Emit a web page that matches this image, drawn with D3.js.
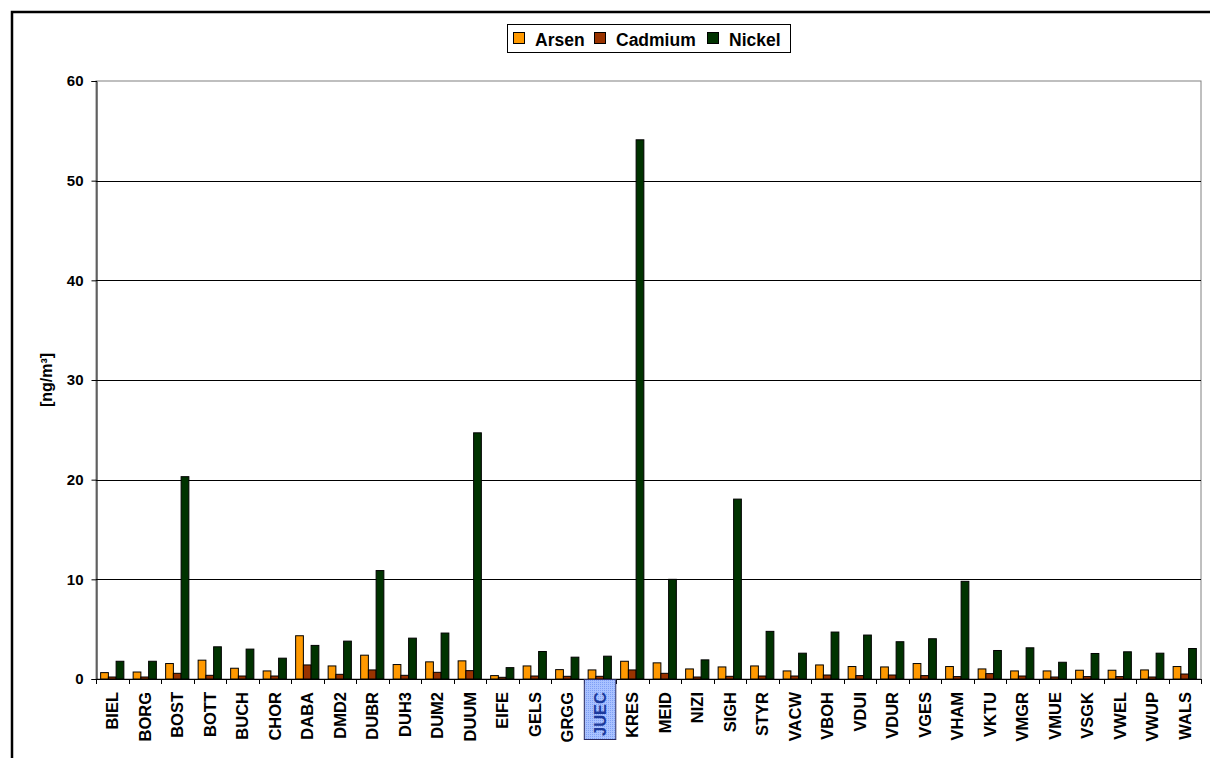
<!DOCTYPE html>
<html>
<head>
<meta charset="utf-8">
<script src="https://cdn.jsdelivr.net/npm/d3@7"></script>
<style>
  html, body { margin: 0; padding: 0; background: #fff; }
  svg { display: block; font-family: "Liberation Sans", Arial, sans-serif; }
</style>
</head>
<body>
<svg id="chart" width="1210" height="758"></svg>
<script>
// Monitoring stations
const stations = ["BIEL","BORG","BOST","BOTT","BUCH","CHOR","DABA","DMD2","DUBR","DUH3",
  "DUM2","DUUM","EIFE","GELS","GRGG","JUEC","KRES","MEID","NIZI","SIGH","STYR","VACW",
  "VBOH","VDUI","VDUR","VGES","VHAM","VKTU","VMGR","VMUE","VSGK","VWEL","VWUP","WALS"];

// Annual means in ng/m³
const arsen = [0.64,0.70,1.55,1.89,1.08,0.81,4.34,1.31,2.39,1.45,
  1.72,1.82,0.34,1.31,0.94,0.91,1.78,1.62,1.01,1.21,1.31,0.81,
  1.41,1.25,1.21,1.55,1.25,1.01,0.81,0.81,0.88,0.88,0.91,1.25];
const cadmium = [0.20,0.20,0.57,0.37,0.30,0.30,1.41,0.47,0.91,0.37,
  0.67,0.84,0.17,0.30,0.27,0.27,0.91,0.57,0.20,0.27,0.30,0.30,
  0.40,0.34,0.40,0.34,0.24,0.54,0.30,0.20,0.24,0.24,0.20,0.50];
const nickel = [1.78,1.78,20.3,3.23,3.00,2.09,3.37,3.80,10.88,4.10,
  4.61,24.7,1.14,2.76,2.19,2.29,54.1,10.0,1.92,18.05,4.78,2.59,
  4.71,4.41,3.74,4.04,9.8,2.86,3.13,1.68,2.56,2.73,2.59,3.06];

const seriesNames = ["Arsen","Cadmium","Nickel"];
const seriesColors = ["#FF9900","#993300","#003300"];
const yTicks = [0,10,20,30,40,50,60];
const highlighted = "JUEC";

const svg = d3.select("#chart");

// outer chart frame
svg.append("rect")
  .attr("x", 12).attr("y", 12)
  .attr("width", 1260).attr("height", 800)
  .attr("fill", "none").attr("stroke", "#000").attr("stroke-width", 2.5);

const plot = { left: 96, top: 81, right: 1201, bottom: 679 };

const x = d3.scaleBand().domain(stations).range([plot.left, plot.right]).padding(0);
const inner = d3.scaleBand().domain(seriesNames)
  .range([0, x.bandwidth()]).paddingInner(0).paddingOuter(0.6);
const y = d3.scaleLinear().domain([0, 60]).range([plot.bottom, plot.top]);

// plot area border (grey)
svg.append("rect")
  .attr("x", plot.left).attr("y", plot.top)
  .attr("width", plot.right - plot.left).attr("height", plot.bottom - plot.top)
  .attr("fill", "#fff").attr("stroke", "#808080").attr("stroke-width", 1);

// horizontal gridlines
svg.append("g").selectAll("line")
  .data(yTicks.filter(t => t > 0 && t < 60))
  .join("line")
  .attr("x1", plot.left).attr("x2", plot.right)
  .attr("y1", d => Math.round(y(d)) + 0.5).attr("y2", d => Math.round(y(d)) + 0.5)
  .attr("stroke", "#000").attr("stroke-width", 1);

// bars
const rows = stations.map((s, i) => ({ s, vals: [arsen[i], cadmium[i], nickel[i]] }));
const groups = svg.append("g").selectAll("g")
  .data(rows).join("g")
  .attr("transform", d => `translate(${x(d.s)},0)`);
groups.selectAll("rect")
  .data(d => d.vals.map((v, k) => ({ v, k })))
  .join("rect")
  .attr("x", d => inner(seriesNames[d.k]))
  .attr("width", inner.bandwidth())
  .attr("y", d => y(d.v))
  .attr("height", d => y(0) - y(d.v))
  .attr("fill", d => seriesColors[d.k])
  .attr("stroke", "#000").attr("stroke-width", 1);

// y axis
const yAxis = d3.axisLeft(y).tickValues(yTicks).tickSize(5).tickPadding(8);
const gy = svg.append("g").attr("transform", `translate(${plot.left + 0.5},0)`).call(yAxis);
gy.select(".domain").attr("stroke", "#000");
gy.selectAll(".tick line").attr("stroke", "#000");
gy.selectAll(".tick text")
  .attr("font-size", 15).attr("font-weight", "bold").attr("fill", "#000")
  .attr("font-family", "Liberation Sans, Arial, sans-serif");

// x axis: ticks between categories
svg.append("line")
  .attr("x1", plot.left).attr("x2", plot.right)
  .attr("y1", plot.bottom + 0.5).attr("y2", plot.bottom + 0.5)
  .attr("stroke", "#000");
svg.append("g").selectAll("line")
  .data(stations.concat(["_end"]))
  .join("line")
  .attr("x1", (d, i) => Math.round(plot.left + i * x.step()) + 0.5)
  .attr("x2", (d, i) => Math.round(plot.left + i * x.step()) + 0.5)
  .attr("y1", plot.bottom).attr("y2", plot.bottom + 5)
  .attr("stroke", "#000");

// highlight pattern for the selected station label
const defs = svg.append("defs");
const pat = defs.append("pattern").attr("id", "selgrid")
  .attr("width", 2).attr("height", 2).attr("patternUnits", "userSpaceOnUse");
pat.append("rect").attr("width", 2).attr("height", 2).attr("fill", "#a9c2ff");
pat.append("rect").attr("width", 1).attr("height", 1).attr("fill", "#7f9ff5");

const hx = x(highlighted);
svg.append("rect")
  .attr("x", hx + 0.5 + 0.3).attr("y", plot.bottom + 0.5)
  .attr("width", x.bandwidth() - 1).attr("height", 60)
  .attr("fill", "url(#selgrid)").attr("stroke", "#2a2a60").attr("stroke-width", 1);

// category labels
svg.append("g").selectAll("text")
  .data(stations).join("text")
  .attr("transform", d => `translate(${x(d) + x.bandwidth() / 2 + 5.8},${plot.bottom + 13}) rotate(-90)`)
  .attr("text-anchor", "end")
  .attr("font-size", 16.5).attr("font-weight", "bold")
  .attr("fill", d => d === highlighted ? "#1c3a9c" : "#000")
  .text(d => d);

// y axis title
svg.append("text")
  .attr("transform", "translate(52,380) rotate(-90)")
  .attr("text-anchor", "middle")
  .attr("font-size", 16).attr("font-weight", "bold")
  .text("[ng/m³]");

// legend
const legend = svg.append("g");
legend.append("rect")
  .attr("x", 507.5).attr("y", 24.5).attr("width", 283).attr("height", 28)
  .attr("fill", "#fff").attr("stroke", "#000").attr("stroke-width", 1);
const legendX = [513, 594, 707];
seriesNames.forEach((name, k) => {
  legend.append("rect")
    .attr("x", legendX[k] + 0.5).attr("y", 32.5).attr("width", 11).attr("height", 11)
    .attr("fill", seriesColors[k]).attr("stroke", "#000");
  legend.append("text")
    .attr("x", legendX[k] + 22).attr("y", 45.5)
    .attr("font-size", 17.5).attr("font-weight", "bold")
    .text(name);
});
</script>
</body>
</html>
